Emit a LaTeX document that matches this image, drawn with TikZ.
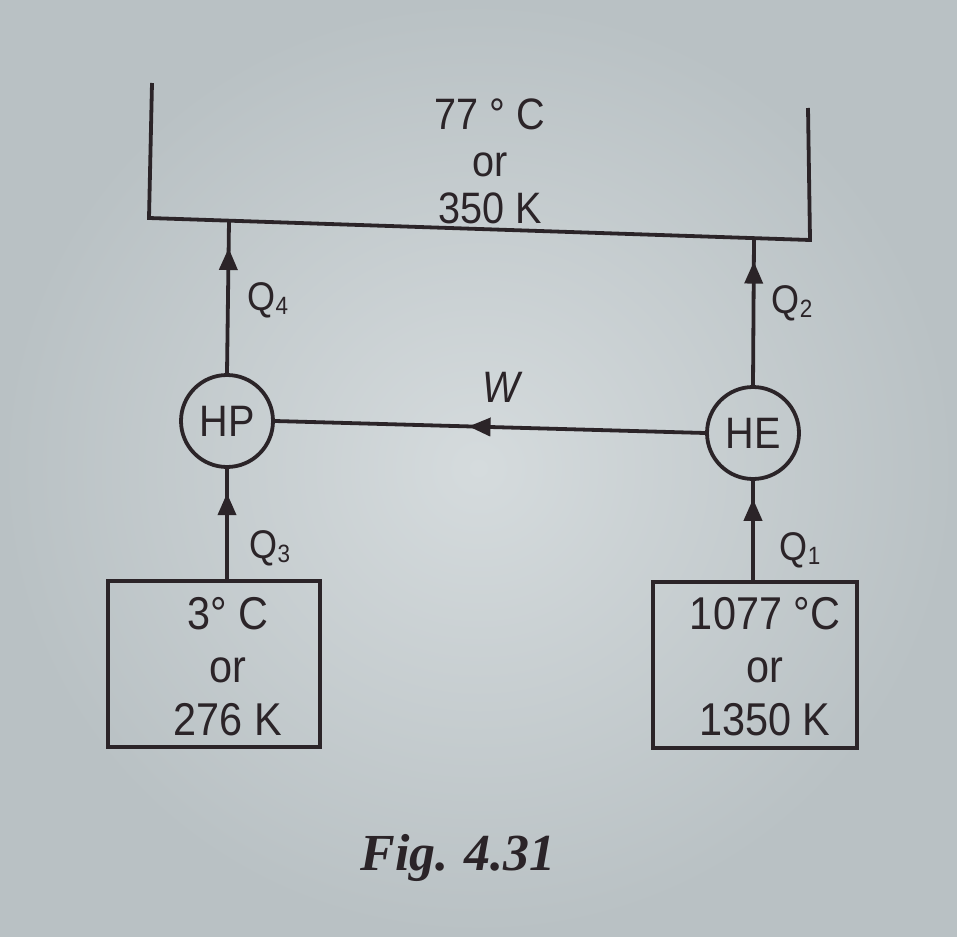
\documentclass[tikz,border=0pt]{standalone}
\usepackage{fontspec}
\setmainfont[FakeStretch=0.9]{Liberation Sans}
\newfontfamily\capfont{Liberation Serif}
\usetikzlibrary{arrows.meta,decorations.markings}
\definecolor{ink}{HTML}{2B2428}
\definecolor{paperin}{HTML}{D5DBDD}
\definecolor{paperout}{HTML}{B9C1C4}
\tikzset{
  flow/.style={draw=ink,color=ink,line width=3.8pt},
  midtip/.style={postaction={decorate},decoration={markings,mark=at position #1 with {\arrow[ink]{Triangle[length=22pt,width=18pt]}}}},
  engine/.style={circle,draw=ink,line width=3.8pt,minimum size=92pt,inner sep=0pt,font=\fontsize{44}{44}\selectfont,text=ink},
  reservoir/.style={draw=ink,line width=3.8pt,minimum height=166pt},
  restext/.style={align=center,font=\fontsize{46}{53}\selectfont,text=ink},
  lbl/.style={text=ink,font=\fontsize{40}{40}\selectfont,inner sep=0pt}
}
\newcommand{\Qs}[1]{Q\raisebox{-0.1em}{\fontsize{25}{25}\selectfont #1}}
\begin{document}
\begin{tikzpicture}[x=1pt,y=-1pt]
  \useasboundingbox (0,0) rectangle (957,936);
  \shade[inner color=paperin,outer color=paperout] (0,0) rectangle (957,936);
  % hot reservoir
  \coordinate (tl) at (152,83);
  \coordinate (bl) at (149,218);
  \coordinate (br) at (810,240);
  \coordinate (tr) at (808,108);
  \draw[flow,line join=miter] (tl) -- (bl) -- (br) -- (tr);
  \node[text=ink,align=center,font=\fontsize{44}{47}\selectfont] (hot) at (490,161) {77 ° C\\or\\350 K};
  % engines
  \node[engine] (HP) at (227,421) {HP};
  \node[engine] (HE) at (753,433) {HE};
  % cold reservoirs
  \node[reservoir,minimum width=212pt] (cold) at (214,664) {};
  \node[restext] (coldtext) at (228,667) {3° C\\or\\276 K};
  \node[reservoir,minimum width=204pt] (src) at (755,665) {};
  \node[restext] (srctext) at (765,667) {1077 °C\\or\\1350 K};
  % connection points on top line
  \coordinate (t4) at (229,220.5);
  \coordinate (t2) at (754,238);
  % flows
  \draw[flow,midtip=0.82] (HP.north) -- (t4);
  \draw[flow,midtip=0.84] (HE.north) -- (t2);
  \draw[flow,midtip=0.55] (HE.west) -- (HP.east);
  \draw[flow,midtip=0.78] (cold.north -| HP.south) -- (HP.south);
  \draw[flow,midtip=0.82] (src.north -| HE.south) -- (HE.south);
  % labels
  \node[lbl] (q4) at (268,300) {\Qs{4}};
  \node[lbl] (q2) at (792,303) {\Qs{2}};
  \node[lbl] (q3) at (270,548) {\Qs{3}};
  \node[lbl] (q1) at (800,550) {\Qs{1}};
  \node[lbl,font=\fontsize{44}{44}\selectfont\itshape] (w) at (501,387) {W};
  \node[text=ink,font=\capfont\bfseries\itshape\fontsize{52}{52}\selectfont] (cap) at (458,858) {Fig.\hspace{16pt}4.31};
\end{tikzpicture}
\end{document}
